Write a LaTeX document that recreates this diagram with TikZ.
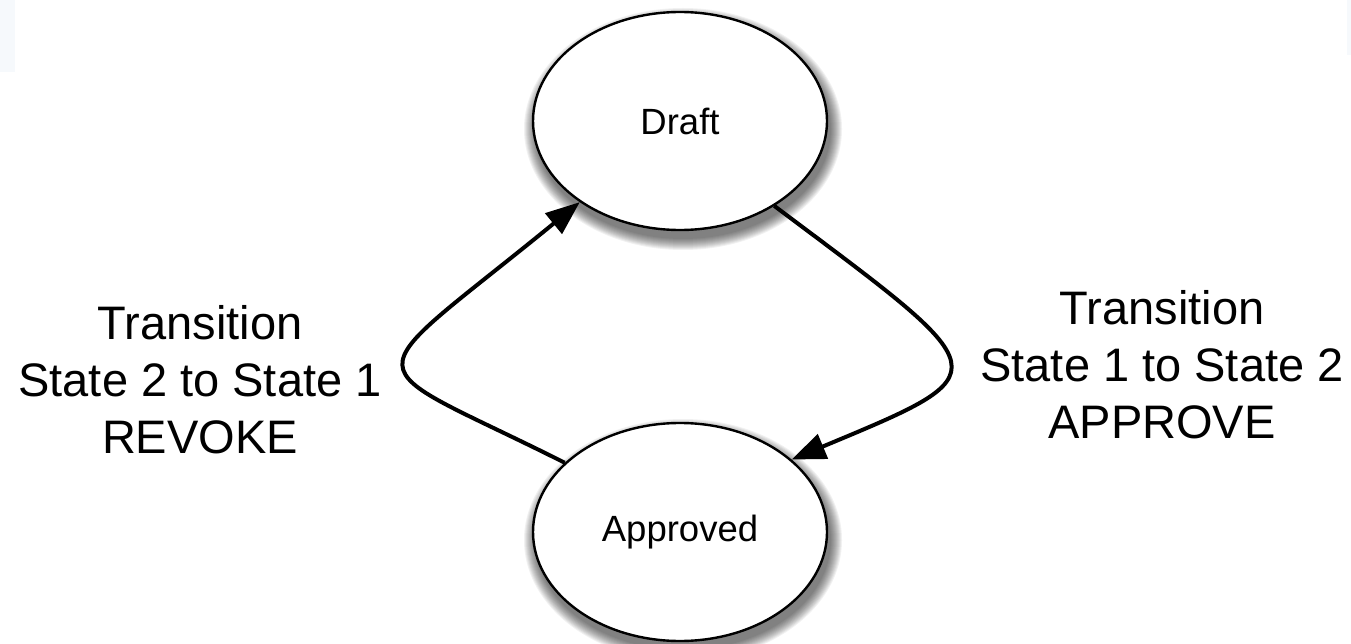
\documentclass[tikz,border=0pt]{standalone}
\usepackage{fontspec}
\setmainfont{Liberation Sans}
\usetikzlibrary{shapes.geometric,arrows.meta,calc}
\definecolor{bgtint}{HTML}{F6F9FC}
\pgfdeclarelayer{background}
\pgfsetlayers{background,main}
\tikzset{
  state/.style={ellipse, draw=black, line width=2.4pt, fill=white,
    minimum width=294pt, minimum height=218pt, inner sep=0pt,
    font=\fontsize{36.5}{40}\selectfont},
  trans/.style={line width=4pt, -{Triangle[length=34pt,width=26pt]}},
  lbl/.style={align=center, font=\fontsize{47}{57}\selectfont, inner sep=0pt},
  shadowlayer/.style={fill=black, opacity=0.055}
}
\begin{document}
\begin{tikzpicture}[x=1pt,y=-1pt]
\useasboundingbox (0,0) rectangle (1351,644);
\fill[bgtint] (0,0) rectangle (15,72);
\fill[bgtint] (1347,0) rectangle (1351,55);
\node[state] (draft) at (680,121) {Draft};
\node[state] (appr) at (680,532) {Approved};
\begin{pgfonlayer}{background}
  \foreach \n in {draft,appr}{
    \foreach \i in {0,...,11}{
      \fill[shadowlayer] ($(\n.center)+(3,8)$) ellipse ({159-\i} and {121-\i});
    }
  }
\end{pgfonlayer}
\draw[trans] (appr.149) .. controls (350,355) and (350,390) .. (draft.219);
\draw[trans] (draft.318) .. controls (1000,375) and (1004,371) .. (appr.33);
\node[lbl] (revoke) at (200,380) {Transition\\State 2 to State 1\\REVOKE};
\node[lbl] (approve) at (1162,365) {Transition\\State 1 to State 2\\APPROVE};
\end{tikzpicture}
\end{document}
